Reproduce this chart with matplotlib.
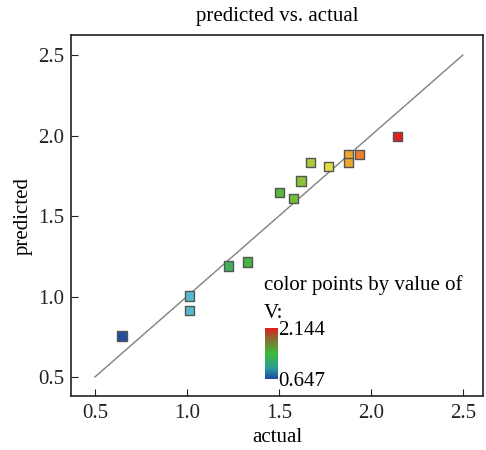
import numpy as np
import matplotlib.pyplot as plt
from matplotlib.colors import LinearSegmentedColormap, Normalize

plt.rcParams['font.family'] = ['Liberation Serif', 'DejaVu Serif']

# data
actual = [0.647, 1.016, 1.016, 1.225, 1.330, 1.502, 1.578, 1.620,
          1.672, 1.768, 1.877, 1.877, 1.937, 2.144]
predicted = [0.755, 1.003, 0.912, 1.189, 1.214, 1.645, 1.609, 1.717,
             1.831, 1.806, 1.883, 1.831, 1.883, 1.995]
v_min, v_max = 0.647, 2.144
ticks = [0.5, 1.0, 1.5, 2.0, 2.5]

cmap = LinearSegmentedColormap.from_list('pts', [
    (0.0, '#1f4f9e'), (0.25, '#55bccb'), (0.40, '#3fae4a'),
    (0.60, '#5cb83a'), (0.68, '#a6c83a'), (0.75, '#e4dc46'),
    (0.82, '#f0aa30'), (0.87, '#ec7a2a'), (1.0, '#dc2222')])
bar_cmap = LinearSegmentedColormap.from_list('bar', [
    (0.0, '#1f4aa8'), (0.2, '#2a9a9a'), (0.5, '#3cbc3c'),
    (0.8, '#8a6a30'), (1.0, '#e02020')])
norm = Normalize(v_min, v_max)

fig = plt.figure(figsize=(4.86, 4.5), dpi=100)
ax = fig.add_axes([0.146, 0.12, 0.848, 0.802])

ax.plot([0.5, 2.5], [0.5, 2.5], color='#808080', lw=1, zorder=1)
ax.scatter(actual, predicted, c=actual, cmap=cmap, norm=norm, marker='s',
           s=44, edgecolors='#555555', linewidths=1, zorder=2)

ax.set_xlim(0.37, 2.61)
ax.set_ylim(0.382, 2.624)
ax.set_xticks(ticks)
ax.set_yticks(ticks)
ax.tick_params(direction='in', length=5, labelsize=15, colors='#222222')
ax.tick_params(axis='x', pad=6)
ax.tick_params(axis='y', pad=5)
for sp in ax.spines.values():
    sp.set_color('#222222')
    sp.set_linewidth(1.2)
ax.set_xlabel('actual', fontsize=15, labelpad=3)
ax.set_ylabel('predicted', fontsize=15, labelpad=4)
ax.set_title('predicted vs. actual', fontsize=15, pad=10)

# colour legend
fig.text(264 / 486, 1 - 290 / 450, 'color points by value of', fontsize=15,
         ha='left', va='baseline')
fig.text(264 / 486, 1 - 318 / 450, 'V:', fontsize=15, ha='left', va='baseline')
cax = fig.add_axes([265 / 486, 1 - 379 / 450, 13 / 486, 51 / 450])
cax.imshow(np.linspace(1, 0, 100)[:, None], aspect='auto', cmap=bar_cmap)
cax.set_xticks([])
cax.set_yticks([])
for sp in cax.spines.values():
    sp.set_visible(False)
fig.text(278 / 486, 1 - 335 / 450, '%.3f' % v_max, fontsize=15, ha='left',
         va='baseline')
fig.text(278 / 486, 1 - 386 / 450, '%.3f' % v_min, fontsize=15, ha='left',
         va='baseline')

fig.savefig('out.png', dpi=100)
